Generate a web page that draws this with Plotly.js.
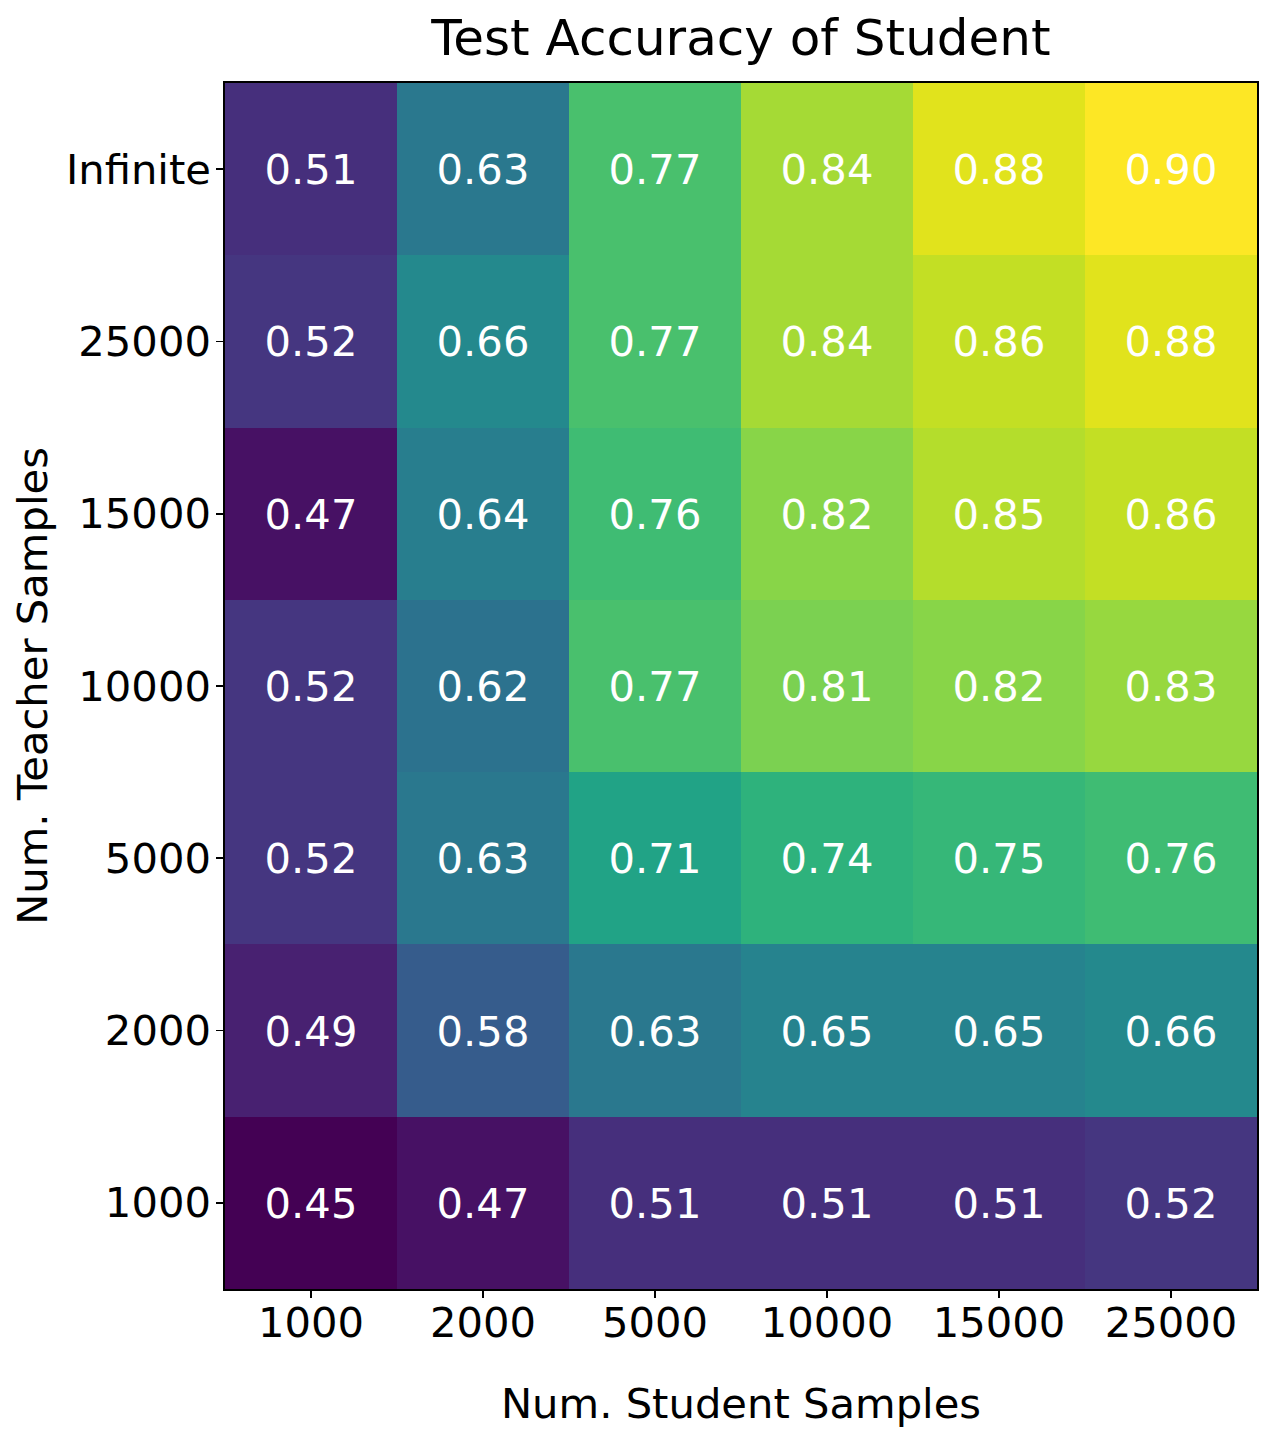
<!DOCTYPE html>
<html>
<head>
<meta charset="utf-8">
<script src="https://cdn.plot.ly/plotly-3.0.1.min.js"></script>
<style>
  html, body { margin: 0; padding: 0; background: #ffffff; }
  #chart { width: 1272px; height: 1440px; }
</style>
</head>
<body>
<div id="chart"></div>
<script>
// Column categories (student samples)
const studentSamples = ['1000', '2000', '5000', '10000', '15000', '25000'];
// Row categories (teacher samples), bottom to top
const teacherSamples = ['1000', '2000', '5000', '10000', '15000', '25000', 'Infinite'];

// Accuracy rows, one per teacher-sample level (bottom to top)
const accTeacher1000     = [0.45, 0.47, 0.51, 0.51, 0.51, 0.52];
const accTeacher2000     = [0.49, 0.58, 0.63, 0.65, 0.65, 0.66];
const accTeacher5000     = [0.52, 0.63, 0.71, 0.74, 0.75, 0.76];
const accTeacher10000    = [0.52, 0.62, 0.77, 0.81, 0.82, 0.83];
const accTeacher15000    = [0.47, 0.64, 0.76, 0.82, 0.85, 0.86];
const accTeacher25000    = [0.52, 0.66, 0.77, 0.84, 0.86, 0.88];
const accTeacherInfinite = [0.51, 0.63, 0.77, 0.84, 0.88, 0.90];

const z = [accTeacher1000, accTeacher2000, accTeacher5000, accTeacher10000,
           accTeacher15000, accTeacher25000, accTeacherInfinite];

const FONT = 'DejaVu Sans, sans-serif';
const LBL = 41.7;

const trace = {
  type: 'heatmap',
  x: studentSamples,
  y: teacherSamples,
  z: z,
  colorscale: 'Viridis',
  showscale: false,
  texttemplate: '%{z:.2f}',
  textfont: { family: FONT, size: LBL, color: '#ffffff' },
  hoverinfo: 'skip'
};

const axisCommon = {
  type: 'category',
  showgrid: false,
  zeroline: false,
  showline: true,
  linecolor: '#000000',
  linewidth: 1.7,
  mirror: true,
  ticks: 'outside',
  ticklen: 7,
  tickwidth: 1.7,
  tickcolor: '#000000',
  tickfont: { family: FONT, size: LBL, color: '#000000' }
};

const layout = {
  width: 1272,
  height: 1440,
  paper_bgcolor: '#ffffff',
  plot_bgcolor: '#ffffff',
  margin: { l: 225, r: 15, t: 83, b: 151 },
  title: {
    text: 'Test Accuracy of Student',
    font: { family: FONT, size: 50, color: '#000000' },
    x: 0.5825, xanchor: 'center',
    y: 0.974, yanchor: 'middle'
  },
  xaxis: Object.assign({}, axisCommon, {
    ticklabelstandoff: -11,
    title: { text: 'Num. Student Samples', font: { family: FONT, size: LBL, color: '#000000' }, standoff: 43 },
    automargin: false
  }),
  yaxis: Object.assign({}, axisCommon, {
    ticklabelstandoff: -3,
    title: { text: 'Num. Teacher Samples', font: { family: FONT, size: LBL, color: '#000000' }, standoff: 5 },
    automargin: false
  }),
  font: { family: FONT, color: '#000000' }
};

Plotly.newPlot('chart', [trace], layout, { staticPlot: true, displayModeBar: false });
</script>
</body>
</html>
